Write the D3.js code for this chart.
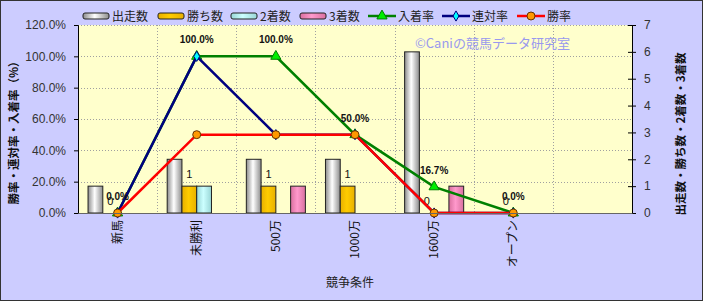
<!DOCTYPE html>
<html>
<head>
<meta charset="utf-8">
<script src="https://cdn.jsdelivr.net/npm/d3@7"></script>
<style>
  body { margin: 0; background: #fff; }
  text { font-family: "Liberation Sans", Arial, "Noto Sans CJK JP", sans-serif; }
  .jp { font-family: "Noto Sans CJK JP", sans-serif; }
</style>
</head>
<body>
<script>
var w = 703;
var h = 301;

// categories (the 7th slot is empty in the original)
var categories = ["新馬", "未勝利", "500万", "1000万", "1600万", "オープン", ""];

// bar series (right axis, counts)
var starts  = [1, 2, 2, 2, 6, 0];
var wins    = [0, 1, 1, 1, 0, 0];
var seconds = [0, 1, 0, 0, 0, 0];
var thirds  = [0, 0, 1, 0, 1, 0];

// line series (left axis, percent)
var placeRate   = [0, 100, 100, 50, 16.7, 0];
var rentaiRate  = [0, 100, 50, 50, 0, 0];
var winRate     = [0, 50, 50, 50, 0, 0];

var leftTicks = [0, 20, 40, 60, 80, 100, 120];
var rightTicks = [0, 1, 2, 3, 4, 5, 6, 7];

var margin = {left: 78, right: 71, top: 25, bottom: 88};
var pw = w - margin.left - margin.right;
var ph = h - margin.top - margin.bottom;

var svg = d3.select("body").append("svg")
            .attr("width", w)
            .attr("height", h);

// gradients
var defs = svg.append("defs");
function gradient(id, edge, mid) {
  var g = defs.append("linearGradient").attr("id", id)
              .attr("x1", "0%").attr("x2", "100%").attr("y1", "0%").attr("y2", "0%");
  g.append("stop").attr("offset", "0%").attr("stop-color", edge);
  g.append("stop").attr("offset", "45%").attr("stop-color", mid);
  g.append("stop").attr("offset", "100%").attr("stop-color", edge);
}
gradient("gStart", "#8c8c8c", "#ffffff");
gradient("gWin", "#e8b000", "#ffcc00");
gradient("gSecond", "#99d6d6", "#ccffff");
gradient("gThird", "#d9709f", "#ff99cc");

// background + border
svg.append("rect")
   .attr("x", 0.5).attr("y", 0.5)
   .attr("width", w - 1).attr("height", h - 1)
   .attr("fill", "#ccccff")
   .attr("stroke", "#333").attr("stroke-width", 1);

var g = svg.append("g").attr("transform", "translate(" + margin.left + "," + margin.top + ")");

g.append("rect")
 .attr("width", pw).attr("height", ph)
 .attr("fill", "#ffffcc");

// scales
var x = d3.scaleBand().domain(d3.range(categories.length)).range([0, pw]);
var xs = d3.scaleBand().domain(d3.range(4)).range([0, x.bandwidth()]).paddingOuter(0.68);
var yL = d3.scaleLinear().domain([0, 120]).range([ph, 0]);
var yR = d3.scaleLinear().domain([0, 7]).range([ph, 0]);

// grid
g.selectAll(".hgrid").data(leftTicks.slice(1)).enter()
 .append("line")
 .attr("x1", 0).attr("x2", pw)
 .attr("y1", function(d) { return Math.round(yL(d)) + 0.5; })
 .attr("y2", function(d) { return Math.round(yL(d)) + 0.5; })
 .attr("stroke", "#a0a0a0").attr("stroke-dasharray", "1,2");

g.selectAll(".vgrid").data(d3.range(1, categories.length)).enter()
 .append("line")
 .attr("x1", function(d) { return Math.round(x(d)) + 0.5; })
 .attr("x2", function(d) { return Math.round(x(d)) + 0.5; })
 .attr("y1", 0).attr("y2", ph)
 .attr("stroke", "#a0a0a0").attr("stroke-dasharray", "1,2");

// watermark
g.append("text")
 .attr("class", "jp")
 .attr("x", 337).attr("y", 23)
 .attr("fill", "#9999ee")
 .style("font-size", "13px")
 .text("©Caniの競馬データ研究室");

// bars
var barSeries = [
  {name: "出走数", values: starts, fill: "url(#gStart)"},
  {name: "勝ち数", values: wins, fill: "url(#gWin)"},
  {name: "2着数", values: seconds, fill: "url(#gSecond)"},
  {name: "3着数", values: thirds, fill: "url(#gThird)"}
];

barSeries.forEach(function(s, si) {
  var pts = s.values.map(function(v, i) { return {v: v, i: i}; })
                    .filter(function(d) { return d.v > 0; });
  g.selectAll(null).data(pts).enter()
   .append("rect")
   .attr("x", function(d) { return x(d.i) + xs(si); })
   .attr("y", function(d) { return yR(d.v); })
   .attr("width", xs.bandwidth())
   .attr("height", function(d) { return ph - yR(d.v); })
   .attr("fill", s.fill)
   .attr("stroke", "#222").attr("stroke-width", 1);
});

// win count labels
g.selectAll(".winLabel").data(wins).enter()
 .append("text")
 .attr("x", function(d, i) { return x(i) + xs(1) + xs.bandwidth() / 2; })
 .attr("y", function(d) { return yR(d) - 8; })
 .attr("text-anchor", "middle")
 .style("font-size", "11px")
 .attr("fill", "#111")
 .text(function(d) { return d; });

// lines
var lineSeries = [
  {name: "入着率", values: placeRate, color: "#008000", marker: "triangle", mfill: "#00ee00"},
  {name: "連対率", values: rentaiRate, color: "#000080", marker: "diamond", mfill: "#00ffff"},
  {name: "勝率", values: winRate, color: "#ff0000", marker: "circle", mfill: "#ff9900"}
];

var line = d3.line()
  .x(function(d, i) { return x(i) + x.bandwidth() / 2; })
  .y(function(d) { return yL(d); });

function markerPath(type) {
  if (type === "triangle") return d3.symbol().type(d3.symbolTriangle).size(45)();
  if (type === "diamond") return d3.symbol().type(d3.symbolDiamond).size(30)();
  return d3.symbol().type(d3.symbolCircle).size(50)();
}

lineSeries.forEach(function(s) {
  g.append("path")
   .datum(s.values)
   .attr("d", line)
   .attr("fill", "none")
   .attr("stroke", s.color)
   .attr("stroke-width", 2.5);
  g.selectAll(null).data(s.values).enter()
   .append("path")
   .attr("transform", function(d, i) {
     return "translate(" + (x(i) + x.bandwidth() / 2) + "," + yL(d) + ")";
   })
   .attr("d", markerPath(s.marker))
   .attr("fill", s.mfill)
   .attr("stroke", s.marker === "circle" ? "#663300" : s.color)
   .attr("stroke-width", 1);
});

// place rate labels
g.selectAll(".rateLabel").data(placeRate).enter()
 .append("text")
 .attr("x", function(d, i) { return x(i) + x.bandwidth() / 2; })
 .attr("y", function(d) { return yL(d) - 13; })
 .attr("text-anchor", "middle")
 .style("font-size", "10px")
 .style("font-weight", "bold")
 .attr("fill", "#111")
 .text(function(d) { return d3.format(".1f")(d) + "%"; });

// axes
var leftAxis = d3.axisLeft(yL).tickValues(leftTicks).tickSize(4)
  .tickFormat(function(d) { return d3.format(".1f")(d) + "%"; });
var la = g.append("g").call(leftAxis);
la.select(".domain").attr("stroke", "#000");
la.selectAll("text").attr("x", -12).style("font-size", "12px").attr("fill", "#333");

var rightAxis = d3.axisRight(yR).tickValues(rightTicks).tickSize(4).tickFormat(d3.format("d"));
var ra = g.append("g").attr("transform", "translate(" + pw + ",0)").call(rightAxis);
ra.select(".domain").attr("stroke", "#000");
ra.selectAll("line").attr("x1", -4).attr("x2", 4);
ra.selectAll("text").attr("x", 12).style("font-size", "12px").attr("fill", "#333");

var bottomAxis = d3.axisBottom(x).tickSize(0).tickFormat(function(d) { return categories[d]; });
var ba = g.append("g").attr("transform", "translate(0," + ph + ")").call(bottomAxis);
ba.select(".domain").attr("stroke", "#666");
ba.selectAll("text")
  .attr("class", "jp")
  .attr("transform", "rotate(-90)")
  .attr("text-anchor", "end")
  .attr("x", -7).attr("y", 0).attr("dy", "0.35em")
  .style("font-size", "12px")
  .attr("fill", "#111");

// axis titles
svg.append("text")
   .attr("class", "jp")
   .attr("transform", "translate(18,130) rotate(-90)")
   .attr("text-anchor", "middle")
   .style("font-size", "11.5px").style("font-weight", "bold")
   .attr("fill", "#111")
   .text("勝率・連対率・入着率（%）");

svg.append("text")
   .attr("class", "jp")
   .attr("transform", "translate(685,134) rotate(-90)")
   .attr("text-anchor", "middle")
   .style("font-size", "11.5px").style("font-weight", "bold")
   .attr("fill", "#111")
   .text("出走数・勝ち数・2着数・3着数");

svg.append("text")
   .attr("class", "jp")
   .attr("x", 350).attr("y", 287)
   .attr("text-anchor", "middle")
   .style("font-size", "12px")
   .attr("fill", "#222")
   .text("競争条件");

// legend
var legendItems = [
  {name: "出走数", type: "bar", fill: "url(#gStart)", x: 83},
  {name: "勝ち数", type: "bar", fill: "url(#gWin)", x: 158},
  {name: "2着数", type: "bar", fill: "url(#gSecond)", x: 231},
  {name: "3着数", type: "bar", fill: "url(#gThird)", x: 300},
  {name: "入着率", type: "line", s: lineSeries[0], x: 368},
  {name: "連対率", type: "line", s: lineSeries[1], x: 442},
  {name: "勝率", type: "line", s: lineSeries[2], x: 517}
];

var lg = svg.append("g").attr("transform", "translate(0,16)");
legendItems.forEach(function(it) {
  var item = lg.append("g").attr("transform", "translate(" + it.x + ",0)");
  if (it.type === "bar") {
    item.append("rect")
        .attr("x", 0).attr("y", -3).attr("width", 26).attr("height", 6)
        .attr("rx", 2)
        .attr("fill", it.fill).attr("stroke", "#222");
  } else {
    item.append("line").attr("x1", 0).attr("x2", 28).attr("y1", 0).attr("y2", 0)
        .attr("stroke", it.s.color).attr("stroke-width", 2.5);
    item.append("path").attr("transform", "translate(14,0)")
        .attr("d", markerPath(it.s.marker))
        .attr("fill", it.s.mfill)
        .attr("stroke", it.s.marker === "circle" ? "#663300" : it.s.color);
  }
  item.append("text")
      .attr("class", "jp")
      .attr("x", it.type === "bar" ? 29 : 30).attr("y", 0).attr("dy", "0.38em")
      .style("font-size", "12px")
      .attr("fill", "#222")
      .text(it.name);
});
</script>
</body>
</html>
